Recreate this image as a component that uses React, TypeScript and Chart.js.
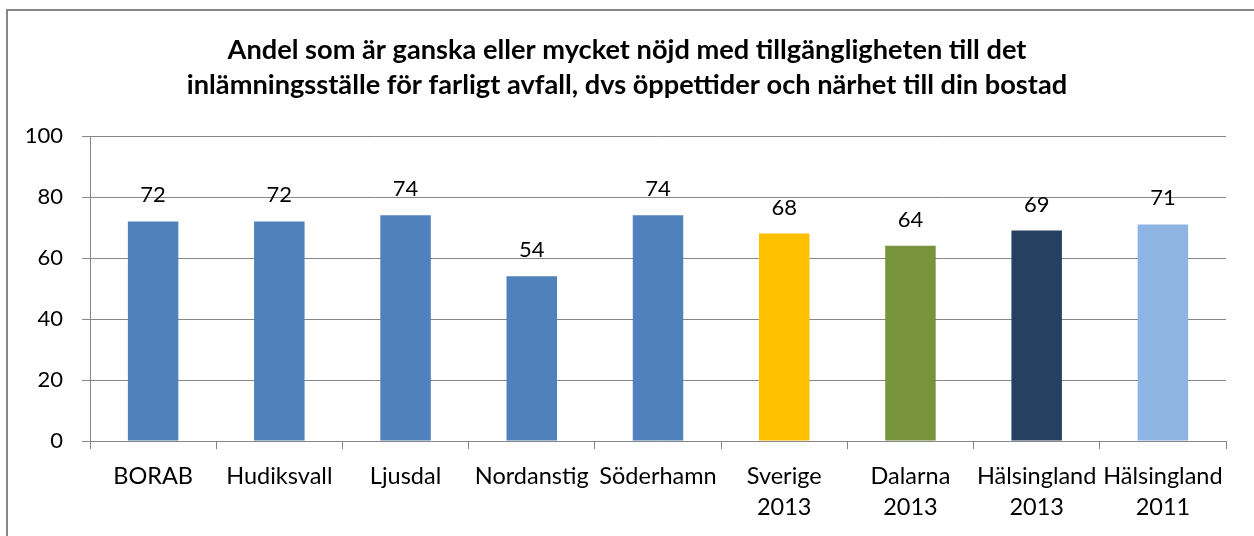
import React, { useEffect, useRef } from "react";
import { Chart, registerables } from "chart.js";

Chart.register(...registerables);

const titleLines = [
  "Andel som är ganska eller mycket nöjd med tillgängligheten till det",
  "inlämningsställe för farligt avfall, dvs öppettider och närhet till din bostad",
];
const categories: (string | string[])[] = [
  "BORAB",
  "Hudiksvall",
  "Ljusdal",
  "Nordanstig",
  "Söderhamn",
  ["Sverige", "2013"],
  ["Dalarna", "2013"],
  ["Hälsingland", "2013"],
  ["Hälsingland", "2011"],
];
const values = [72, 72, 74, 54, 74, 68, 64, 69, 71];
const barColors = [
  "#4F81BD",
  "#4F81BD",
  "#4F81BD",
  "#4F81BD",
  "#4F81BD",
  "#FFC000",
  "#77933C",
  "#254061",
  "#8EB4E3",
];
const yTicks = [0, 20, 40, 60, 80, 100];

const FONT = "Lato, 'Open Sans', sans-serif";
const GRID = "#878787";

export default function App() {
  const ref = useRef<HTMLCanvasElement>(null);
  useEffect(() => {
    if (!ref.current) return;
    const labelPlugin = {
      id: "labels",
      afterDatasetsDraw(chart: any) {
        const ctx = chart.ctx;
        const meta = chart.getDatasetMeta(0);
        ctx.save();
        ctx.font = `22px ${FONT}`;
        ctx.fillStyle = "#000";
        ctx.textAlign = "center";
        ctx.textBaseline = "alphabetic";
        meta.data.forEach((bar: any, i: number) => {
          ctx.fillText(String(values[i]), bar.x, bar.y - 19);
        });
        ctx.restore();
      },
      afterDraw(chart: any) {
        const ctx = chart.ctx;
        ctx.save();
        ctx.font = `bold 27.2px ${FONT}`;
        ctx.fillStyle = "#000";
        ctx.textAlign = "center";
        ctx.textBaseline = "middle";
        titleLines.forEach((t, i) => ctx.fillText(t, chart.width / 2, 50 + i * 35));
        ctx.restore();
      },
    };
    const chart = new Chart(ref.current, {
      type: "bar",
      data: {
        labels: categories,
        datasets: [
          {
            data: values,
            backgroundColor: barColors,
            borderWidth: 0,
            categoryPercentage: 1,
            barPercentage: 0.4,
          },
        ],
      },
      options: {
        animation: false,
        responsive: false,
        maintainAspectRatio: false,
        layout: { padding: { top: 136, right: 28, left: 0, bottom: 0 } },
        plugins: { legend: { display: false }, tooltip: { enabled: false } },
        scales: {
          x: {
            afterFit: (s: any) => {
              s.height = 95;
            },
            grid: {
              drawOnChartArea: false,
              drawTicks: true,
              tickLength: 8,
              color: GRID,
              offset: true,
            },
            border: { color: GRID, width: 1 },
            ticks: {
              color: "#000",
              font: { family: FONT, size: 23.5, lineHeight: 1.32 },
              maxRotation: 0,
              minRotation: 0,
              autoSkip: false,
              padding: 12,
            },
          },
          y: {
            min: 0,
            max: 100,
            afterFit: (s: any) => {
              s.width = 90;
            },
            afterBuildTicks: (s: any) => {
              s.ticks = yTicks.map((v) => ({ value: v }));
            },
            grid: { color: GRID, tickLength: 8, lineWidth: 1 },
            border: { color: GRID, width: 1 },
            ticks: {
              color: "#000",
              font: { family: FONT, size: 22 },
              padding: 19,
            },
          },
        },
      },
      plugins: [labelPlugin],
    });
    return () => chart.destroy();
  }, []);
  return (
    <div
      style={{
        position: "fixed",
        left: 0,
        top: 0,
        width: 1254,
        height: 536,
        overflow: "hidden",
        background: "#fff",
      }}
    >
      <div
        style={{
          position: "absolute",
          left: 6,
          top: 9,
          width: 1400,
          height: 700,
          borderLeft: "2px solid #878787",
          borderTop: "2px solid #878787",
        }}
      />
      <canvas
        ref={ref}
        width={1254}
        height={536}
        style={{ position: "absolute", left: 0, top: 0, width: 1254, height: 536 }}
      />
    </div>
  );
}
